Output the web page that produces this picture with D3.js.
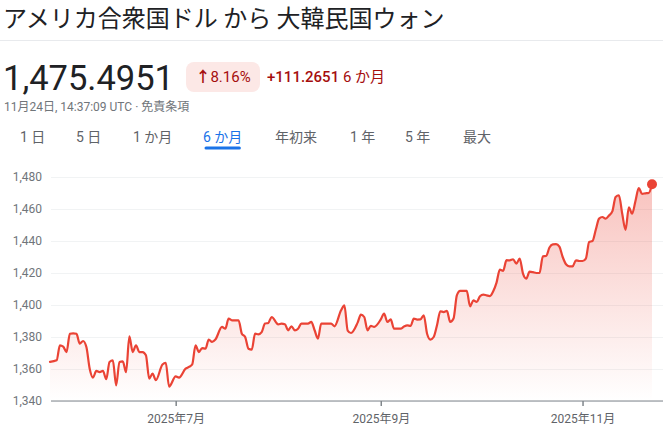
<!DOCTYPE html>
<html>
<head>
<meta charset="utf-8">
<script src="https://cdn.jsdelivr.net/npm/d3@7"></script>
<style>
  body { margin: 0; background: #fff; }
  svg { display: block; font-family: Roboto, "Noto Sans CJK JP", sans-serif; }
</style>
</head>
<body>
<div id="chart"></div>
<script>
// USD -> KRW, last 6 months
const dates = [
  "2025-05-24","2025-05-26","2025-05-27","2025-05-28","2025-05-29","2025-05-30","2025-05-31","2025-06-01",
  "2025-06-02","2025-06-03","2025-06-04","2025-06-05","2025-06-06","2025-06-07","2025-06-08","2025-06-09",
  "2025-06-10","2025-06-11","2025-06-12","2025-06-13","2025-06-14","2025-06-15","2025-06-16","2025-06-17",
  "2025-06-18","2025-06-19","2025-06-20","2025-06-21","2025-06-22","2025-06-23","2025-06-24","2025-06-25",
  "2025-06-27","2025-06-28","2025-06-29","2025-07-01","2025-07-02","2025-07-04","2025-07-05","2025-07-06",
  "2025-07-07","2025-07-08","2025-07-09","2025-07-10","2025-07-11","2025-07-12","2025-07-13","2025-07-15",
  "2025-07-16","2025-07-17","2025-07-18","2025-07-20","2025-07-21","2025-07-22","2025-07-23","2025-07-24",
  "2025-07-25","2025-07-26","2025-07-27","2025-07-28","2025-07-29","2025-07-30","2025-08-01","2025-08-02",
  "2025-08-03","2025-08-04","2025-08-05","2025-08-06","2025-08-07","2025-08-08","2025-08-10","2025-08-11",
  "2025-08-12","2025-08-13","2025-08-14","2025-08-17","2025-08-18","2025-08-20","2025-08-21","2025-08-22",
  "2025-08-23","2025-08-25","2025-08-26","2025-08-27","2025-08-28","2025-08-29","2025-08-30","2025-09-01",
  "2025-09-02","2025-09-03","2025-09-04","2025-09-05","2025-09-07","2025-09-08","2025-09-09","2025-09-10",
  "2025-09-11","2025-09-12","2025-09-13","2025-09-14","2025-09-15","2025-09-16","2025-09-17","2025-09-18",
  "2025-09-19","2025-09-20","2025-09-21","2025-09-22","2025-09-23","2025-09-24","2025-09-25","2025-09-27",
  "2025-09-28","2025-09-29","2025-09-30","2025-10-01","2025-10-02","2025-10-03","2025-10-04","2025-10-05",
  "2025-10-06","2025-10-07","2025-10-08","2025-10-09","2025-10-10","2025-10-11","2025-10-12","2025-10-13",
  "2025-10-14","2025-10-15","2025-10-16","2025-10-17","2025-10-18","2025-10-19","2025-10-20","2025-10-21",
  "2025-10-22","2025-10-23","2025-10-24","2025-10-25","2025-10-26","2025-10-27","2025-10-28","2025-10-29",
  "2025-10-30","2025-10-31","2025-11-01","2025-11-02","2025-11-03","2025-11-04","2025-11-05","2025-11-06",
  "2025-11-07","2025-11-08","2025-11-09","2025-11-10","2025-11-11","2025-11-12","2025-11-13","2025-11-14",
  "2025-11-15","2025-11-16","2025-11-17","2025-11-18","2025-11-19","2025-11-20","2025-11-21","2025-11-22"
];
const rates = [
  1364.4,1365.4,1374.8,1374.0,1370.6,1382.0,1382.3,1382.0,
  1375.9,1377.5,1373.7,1360.2,1354.6,1358.8,1358.0,1358.8,
  1353.6,1364.4,1365.4,1349.8,1364.4,1364.8,1358.0,1380.4,
  1370.6,1374.8,1370.6,1370.6,1368.6,1354.0,1357.1,1353.0,
  1362.8,1363.8,1349.0,1355.4,1354.6,1360.2,1361.3,1362.9,
  1374.8,1370.6,1373.1,1372.7,1378.4,1376.9,1378.4,1386.3,
  1385.2,1391.5,1390.4,1390.4,1382.1,1380.0,1372.7,1372.1,
  1382.1,1381.7,1383.1,1388.4,1388.8,1392.5,1387.9,1388.4,
  1388.0,1384.2,1386.7,1384.2,1385.2,1388.4,1388.4,1389.4,
  1384.2,1379.0,1388.4,1388.4,1386.7,1396.7,1399.8,1384.0,
  1382.5,1389.0,1394.0,1392.5,1384.2,1387.0,1386.3,1391.0,
  1394.6,1389.4,1391.0,1385.2,1385.2,1386.5,1387.3,1386.9,
  1391.5,1390.9,1391.0,1393.6,1382.0,1378.4,1380.0,1387.3,
  1396.1,1395.6,1396.3,1389.4,1391.5,1406.0,1408.8,1408.8,
  1399.2,1402.9,1401.9,1405.5,1406.5,1406.0,1405.6,1408.6,
  1414.0,1422.1,1421.3,1428.0,1427.9,1428.6,1425.9,1429.0,
  1419.6,1416.5,1420.8,1420.5,1420.0,1420.0,1430.4,1430.6,
  1435.9,1437.9,1438.0,1436.5,1430.0,1425.5,1424.2,1424.2,
  1427.9,1427.5,1427.5,1429.0,1439.4,1440.0,1447.0,1454.0,
  1455.0,1454.0,1456.0,1458.5,1467.5,1468.6,1457.0,1447.0,
  1461.0,1457.1,1465.0,1473.0,1469.5,1469.8,1470.0,1475.5
];

const yTicks = [1340, 1360, 1380, 1400, 1420, 1440, 1460, 1480];
const xTickDates = ["2025-07-01", "2025-09-01", "2025-11-01"];
const xTickLabels = ["2025年7月", "2025年9月", "2025年11月"];
const tabs = ["1 日", "5 日", "1 か月", "6 か月", "年初来", "1 年", "5 年", "最大"];
const activeTab = "6 か月";

const width = 663, height = 432;
const plot = { left: 51, right: 663, top: 177, bottom: 401 };
const lineColor = "#ea4335";

const parseDate = d3.timeParse("%Y-%m-%d");
const data = dates.map((d, i) => ({ date: parseDate(d), value: rates[i] }));

const svg = d3.select("#chart").append("svg")
    .attr("width", width)
    .attr("height", height);

// ---- header ----
svg.append("text")
    .attr("x", 3).attr("y", 27)
    .attr("font-family", "'Noto Sans CJK JP', sans-serif")
    .attr("font-size", 24)
    .attr("fill", "#202124")
    .text("アメリカ合衆国ドル から 大韓民国ウォン");

svg.append("line")
    .attr("x1", 0).attr("x2", width)
    .attr("y1", 40.5).attr("y2", 40.5)
    .attr("stroke", "#e8eaed");

svg.append("text")
    .attr("x", 3).attr("y", 90)
    .attr("font-size", 34.5)
    .attr("fill", "#202124")
    .text("1,475.4951");

svg.append("rect")
    .attr("x", 186).attr("y", 62)
    .attr("width", 74).attr("height", 30)
    .attr("rx", 8)
    .attr("fill", "#fce8e6");

svg.append("text")
    .attr("x", 223).attr("y", 82)
    .attr("text-anchor", "middle")
    .attr("font-size", 15)
    .attr("fill", "#a50e0e")
    .call(t => t.append("tspan").attr("font-weight", "bold").text("↑"))
    .call(t => t.append("tspan").text("8.16%"));

svg.append("text")
    .attr("x", 267).attr("y", 82)
    .attr("font-size", 15)
    .attr("fill", "#a50e0e")
    .call(t => t.append("tspan").attr("font-weight", 500).text("+111.2651"))
    .call(t => t.append("tspan").text(" 6 か月"));

svg.append("text")
    .attr("x", 4).attr("y", 111)
    .attr("font-size", 12)
    .attr("fill", "#70757a")
    .text("11月24日, 14:37:09 UTC · 免責条項");

// ---- range tabs ----
const tabX = [20, 76, 133, 203, 275, 350, 405, 463];
tabs.forEach((t, i) => {
    const txt = svg.append("text")
        .attr("x", tabX[i]).attr("y", 142)
        .attr("font-size", 14)
        .attr("fill", t === activeTab ? "#1a73e8" : "#5f6368")
        .text(t);
    if (t === activeTab) {
        const w = txt.node().getComputedTextLength();
        svg.append("line")
            .attr("x1", tabX[i] + 3).attr("x2", tabX[i] + w - 3)
            .attr("y1", 148).attr("y2", 148)
            .attr("stroke", "#1a73e8")
            .attr("stroke-width", 3)
            .attr("stroke-linecap", "round");
    }
});

// ---- scales ----
const x = d3.scaleTime()
    .domain(d3.extent(data, d => d.date))
    .range([50, 652]);

const y = d3.scaleLinear()
    .domain([1340, 1480])
    .range([plot.bottom, plot.top]);

// gridlines + y labels
const yAxis = svg.append("g")
    .attr("transform", `translate(${plot.left},0)`)
    .call(d3.axisLeft(y).tickValues(yTicks).tickFormat(d3.format(",")).tickSize(-(plot.right - plot.left)).tickPadding(9))
    .call(g => g.select(".domain").remove());
yAxis.selectAll(".tick line").attr("stroke", "#f1f3f4");
yAxis.selectAll(".tick text")
    .attr("font-size", 12)
    .attr("fill", "#70757a")
    .attr("font-family", "Roboto, sans-serif");

// area gradient, fading downwards
const defs = svg.append("defs");
const grad = defs.append("linearGradient")
    .attr("id", "areaFill")
    .attr("gradientUnits", "userSpaceOnUse")
    .attr("x1", 0).attr("y1", plot.top)
    .attr("x2", 0).attr("y2", plot.bottom);
grad.append("stop").attr("offset", "0%").attr("stop-color", lineColor).attr("stop-opacity", 0.33);
grad.append("stop").attr("offset", "100%").attr("stop-color", lineColor).attr("stop-opacity", 0.0);

const area = d3.area()
    .curve(d3.curveMonotoneX)
    .x(d => x(d.date))
    .y0(plot.bottom)
    .y1(d => y(d.value));

svg.append("path")
    .datum(data)
    .attr("fill", "url(#areaFill)")
    .attr("d", area);

// bottom axis
svg.append("line")
    .attr("x1", plot.left).attr("x2", plot.right)
    .attr("y1", plot.bottom).attr("y2", plot.bottom)
    .attr("stroke", "#80868b")
    .attr("stroke-width", 1.2);

const xAxis = svg.append("g")
    .attr("transform", `translate(0,${plot.bottom})`)
    .call(d3.axisBottom(x)
        .tickValues(xTickDates.map(parseDate))
        .tickFormat((d, i) => xTickLabels[i])
        .tickSize(5).tickPadding(8))
    .call(g => g.select(".domain").remove());
xAxis.selectAll(".tick line").attr("stroke", "#80868b").attr("stroke-width", 1.5);
xAxis.selectAll(".tick text")
    .attr("font-size", 12)
    .attr("fill", "#5f6368")
    .attr("font-family", "Roboto, 'Noto Sans CJK JP', sans-serif");

// line
const line = d3.line()
    .curve(d3.curveMonotoneX)
    .x(d => x(d.date))
    .y(d => y(d.value));

svg.append("path")
    .datum(data)
    .attr("fill", "none")
    .attr("stroke", lineColor)
    .attr("stroke-width", 2.2)
    .attr("stroke-linejoin", "round")
    .attr("stroke-linecap", "round")
    .attr("d", line);

const last = data[data.length - 1];
svg.append("circle")
    .attr("cx", x(last.date))
    .attr("cy", y(last.value))
    .attr("r", 5)
    .attr("fill", lineColor);
</script>
</body>
</html>
